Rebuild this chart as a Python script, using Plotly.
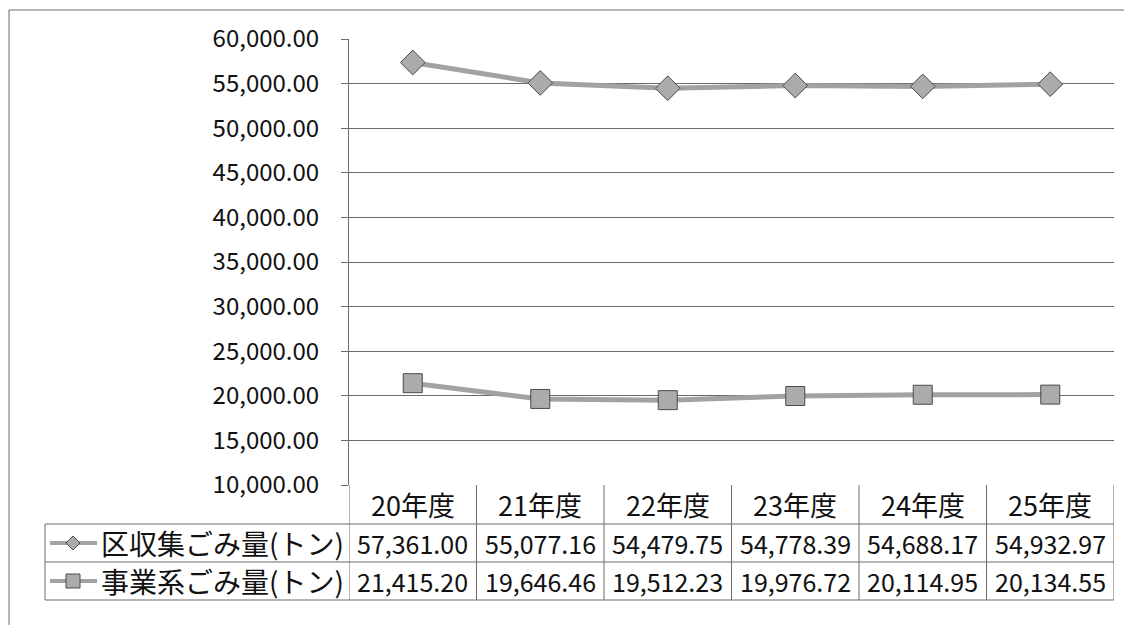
import plotly.graph_objects as go

# ---- data ----
categories = ["20年度", "21年度", "22年度", "23年度", "24年度", "25年度"]
series_names = ["区収集ごみ量(トン)", "事業系ごみ量(トン)"]
ku_collection = [57361.00, 55077.16, 54479.75, 54778.39, 54688.17, 54932.97]
business_waste = [21415.20, 19646.46, 19512.23, 19976.72, 20114.95, 20134.55]
y_ticks = [10000, 15000, 20000, 25000, 30000, 35000, 40000, 45000, 50000, 55000, 60000]

# ---- layout geometry (screen pixels; page body adds an 8px offset) ----
OFF = 8
W, H = 1132 - OFF, 625 - OFF
PL, PR, PT, PB = 349, 1114, 39, 485   # screen coords of plot area
FONT = "Noto Sans CJK JP"
GRID = "#6a6a6a"


def px(xs):
    return (xs - PL) / (PR - PL)


def py(ys):
    return (PB - ys) / (PB - PT)


fig = go.Figure()
styles = [
    dict(symbol="diamond", size=19),
    dict(symbol="square", size=19),
]
for name, vals, st in zip(series_names, [ku_collection, business_waste], styles):
    fig.add_trace(go.Scatter(
        x=list(range(len(categories))), y=vals, name=name, mode="lines+markers",
        line=dict(color="#a2a2a2", width=5),
        marker=dict(symbol=st["symbol"], size=st["size"], color="#ababab",
                    line=dict(color="#4a4a4a", width=1)),
        showlegend=False, hoverinfo="skip"))

shapes = []
annotations = []

row_tops = [485, 524, 562, 600]
for yy in row_tops[1:]:
    shapes.append(dict(type="line", xref="paper", yref="paper", x0=px(45), x1=px(PR),
                       y0=py(yy), y1=py(yy), line=dict(color=GRID, width=1)))
for i in range(len(categories) + 1):
    shapes.append(dict(type="line", xref="x", yref="paper", x0=i - 0.5, x1=i - 0.5,
                       y0=py(485), y1=py(600), line=dict(color=GRID, width=1)))
shapes.append(dict(type="line", xref="paper", yref="paper", x0=px(45), x1=px(45),
                   y0=py(524), y1=py(600), line=dict(color=GRID, width=1)))
# outer frame (left & top)
shapes.append(dict(type="line", xref="paper", yref="paper", x0=px(9), x1=px(9),
                   y0=py(10), y1=py(640), line=dict(color=GRID, width=1)))
shapes.append(dict(type="line", xref="paper", yref="paper", x0=px(9), x1=px(1140),
                   y0=py(10), y1=py(10), line=dict(color=GRID, width=1)))

for i, c in enumerate(categories):
    annotations.append(dict(x=i, y=py(505), xref="x", yref="paper", text=c,
                            xanchor="center", yanchor="middle",
                            showarrow=False, font=dict(family=FONT, size=27, color="#111")))

for r, (name, vals, st) in enumerate(zip(series_names, [ku_collection, business_waste], styles)):
    yc = (row_tops[r + 1] + row_tops[r + 2]) / 2
    for i, v in enumerate(vals):
        annotations.append(dict(x=i, y=py(yc), xref="x", yref="paper", text=f"{v:,.2f}",
                                xanchor="center", yanchor="middle",
                                showarrow=False, font=dict(family=FONT, size=25, color="#111")))
    annotations.append(dict(x=px(346), y=py(yc), xref="paper", yref="paper", text=name,
                            xanchor="right", yanchor="middle", showarrow=False,
                            font=dict(family=FONT, size=28, color="#111")))
    shapes.append(dict(type="line", xref="paper", yref="paper", x0=px(50), x1=px(97),
                       y0=py(yc), y1=py(yc), line=dict(color="#a2a2a2", width=4)))
    cx, cy, s = 73, yc, 7
    if st["symbol"] == "diamond":
        path = (f"M {px(cx - s)},{py(cy)} L {px(cx)},{py(cy - s)} L {px(cx + s)},{py(cy)} "
                f"L {px(cx)},{py(cy + s)} Z")
    else:
        path = (f"M {px(cx - s)},{py(cy - s)} L {px(cx + s)},{py(cy - s)} L {px(cx + s)},{py(cy + s)} "
                f"L {px(cx - s)},{py(cy + s)} Z")
    shapes.append(dict(type="path", xref="paper", yref="paper", path=path,
                       fillcolor="#ababab", line=dict(color="#4a4a4a", width=1)))

fig.update_layout(
    width=W, height=H,
    margin=dict(l=PL - OFF, r=1132 - PR, t=PT - OFF, b=625 - PB),
    paper_bgcolor="white", plot_bgcolor="white",
    shapes=shapes, annotations=annotations,
    xaxis=dict(range=[-0.5, len(categories) - 0.5], showticklabels=False, showgrid=False,
               zeroline=False, showline=False, ticks=""),
    yaxis=dict(range=[10000, 60000], tickvals=y_ticks,
               ticktext=[f"{v:,.2f}" for v in y_ticks],
               showgrid=True, gridcolor=GRID, gridwidth=1,
               showline=True, linecolor=GRID, linewidth=1,
               ticks="outside", ticklen=7, tickcolor=GRID,
               ticklabelstandoff=17,
               zeroline=False, tickfont=dict(family=FONT, size=24, color="#111")),
)
fig.write_html("out.html")
